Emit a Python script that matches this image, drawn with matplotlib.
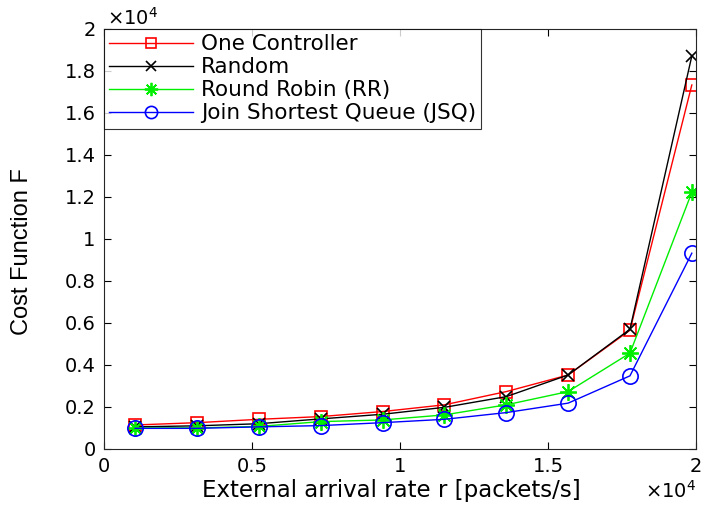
import numpy as np
import matplotlib
matplotlib.use('Agg')
import matplotlib.pyplot as plt
from matplotlib.ticker import FuncFormatter, MultipleLocator

# arrival rate r [packets/s]
rate = [1050, 3140, 5230, 7320, 9410, 11500, 13590, 15680, 17770, 19860]

# cost function F for each scheme
one_ctrl = [1140, 1250, 1410, 1540, 1780, 2100, 2730, 3520, 5650, 17330]
random_lb = [1050, 1100, 1200, 1430, 1650, 1980, 2490, 3520, 5700, 18710]
rr = [1000, 1000, 1070, 1300, 1380, 1620, 2100, 2730, 4560, 12220]
jsq = [980, 980, 1050, 1110, 1250, 1410, 1730, 2180, 3480, 9320]

labels = ['One Controller', 'Random', 'Round Robin (RR)', 'Join Shortest Queue (JSQ)']

plt.rcParams['font.family'] = ['DejaVu Sans']
plt.rcParams['mathtext.fontset'] = 'dejavusans'

fig = plt.figure(figsize=(7.08, 5.16), dpi=100)
ax = fig.add_axes([0.147, 0.130, 0.836, 0.814])

ax.plot(rate, one_ctrl, color='red', marker='s', ms=9, mfc='none', mew=1.2, lw=1, label=labels[0])
ax.plot(rate, random_lb, color='black', marker='x', ms=9, mew=1.2, lw=1, label=labels[1])
ax.plot(rate, rr, color='#00ee00', marker=(8, 2, 0), ms=12, mew=1.3, lw=1, label=labels[2])
ax.plot(rate, jsq, color='blue', marker='o', ms=11, mfc='none', mew=1.2, lw=1, label=labels[3])

ax.set_xlim(0, 20000)
ax.set_ylim(0, 20000)
ax.xaxis.set_major_locator(MultipleLocator(5000))
ax.yaxis.set_major_locator(MultipleLocator(2000))
fmt = FuncFormatter(lambda v, p: '%g' % (v / 1e4))
ax.xaxis.set_major_formatter(fmt)
ax.yaxis.set_major_formatter(fmt)
ax.tick_params(direction='in', top=True, right=True, labelsize=14, length=5, pad=6)
for s in ax.spines.values():
    s.set_color('#262626')

# MATLAB-style exponent labels
ax.text(0.005, 1.026, r'$\times\mathregular{10^4}$', transform=ax.transAxes,
        fontsize=14, ha='left', va='center')
ax.text(1.0, -0.1, r'$\times\mathregular{10^4}$', transform=ax.transAxes,
        fontsize=14, ha='right', va='center')

ax.set_xlabel('External arrival rate r [packets/s]', fontsize=16.5)
ax.xaxis.set_label_coords(0.486, -0.072)
ax.set_ylabel('Cost Function F', fontsize=17, family=['Liberation Sans'])
ax.yaxis.set_label_coords(-0.12, 0.469)

leg = ax.legend(loc='upper left', fontsize=15.5, frameon=True, fancybox=False,
                edgecolor='black', borderaxespad=0.0, handlelength=3.9,
                labelspacing=0.14, borderpad=0.25, handletextpad=0.35, markerscale=0.8)
leg.get_frame().set_linewidth(0.8)

fig.savefig('out.png', dpi=100)
